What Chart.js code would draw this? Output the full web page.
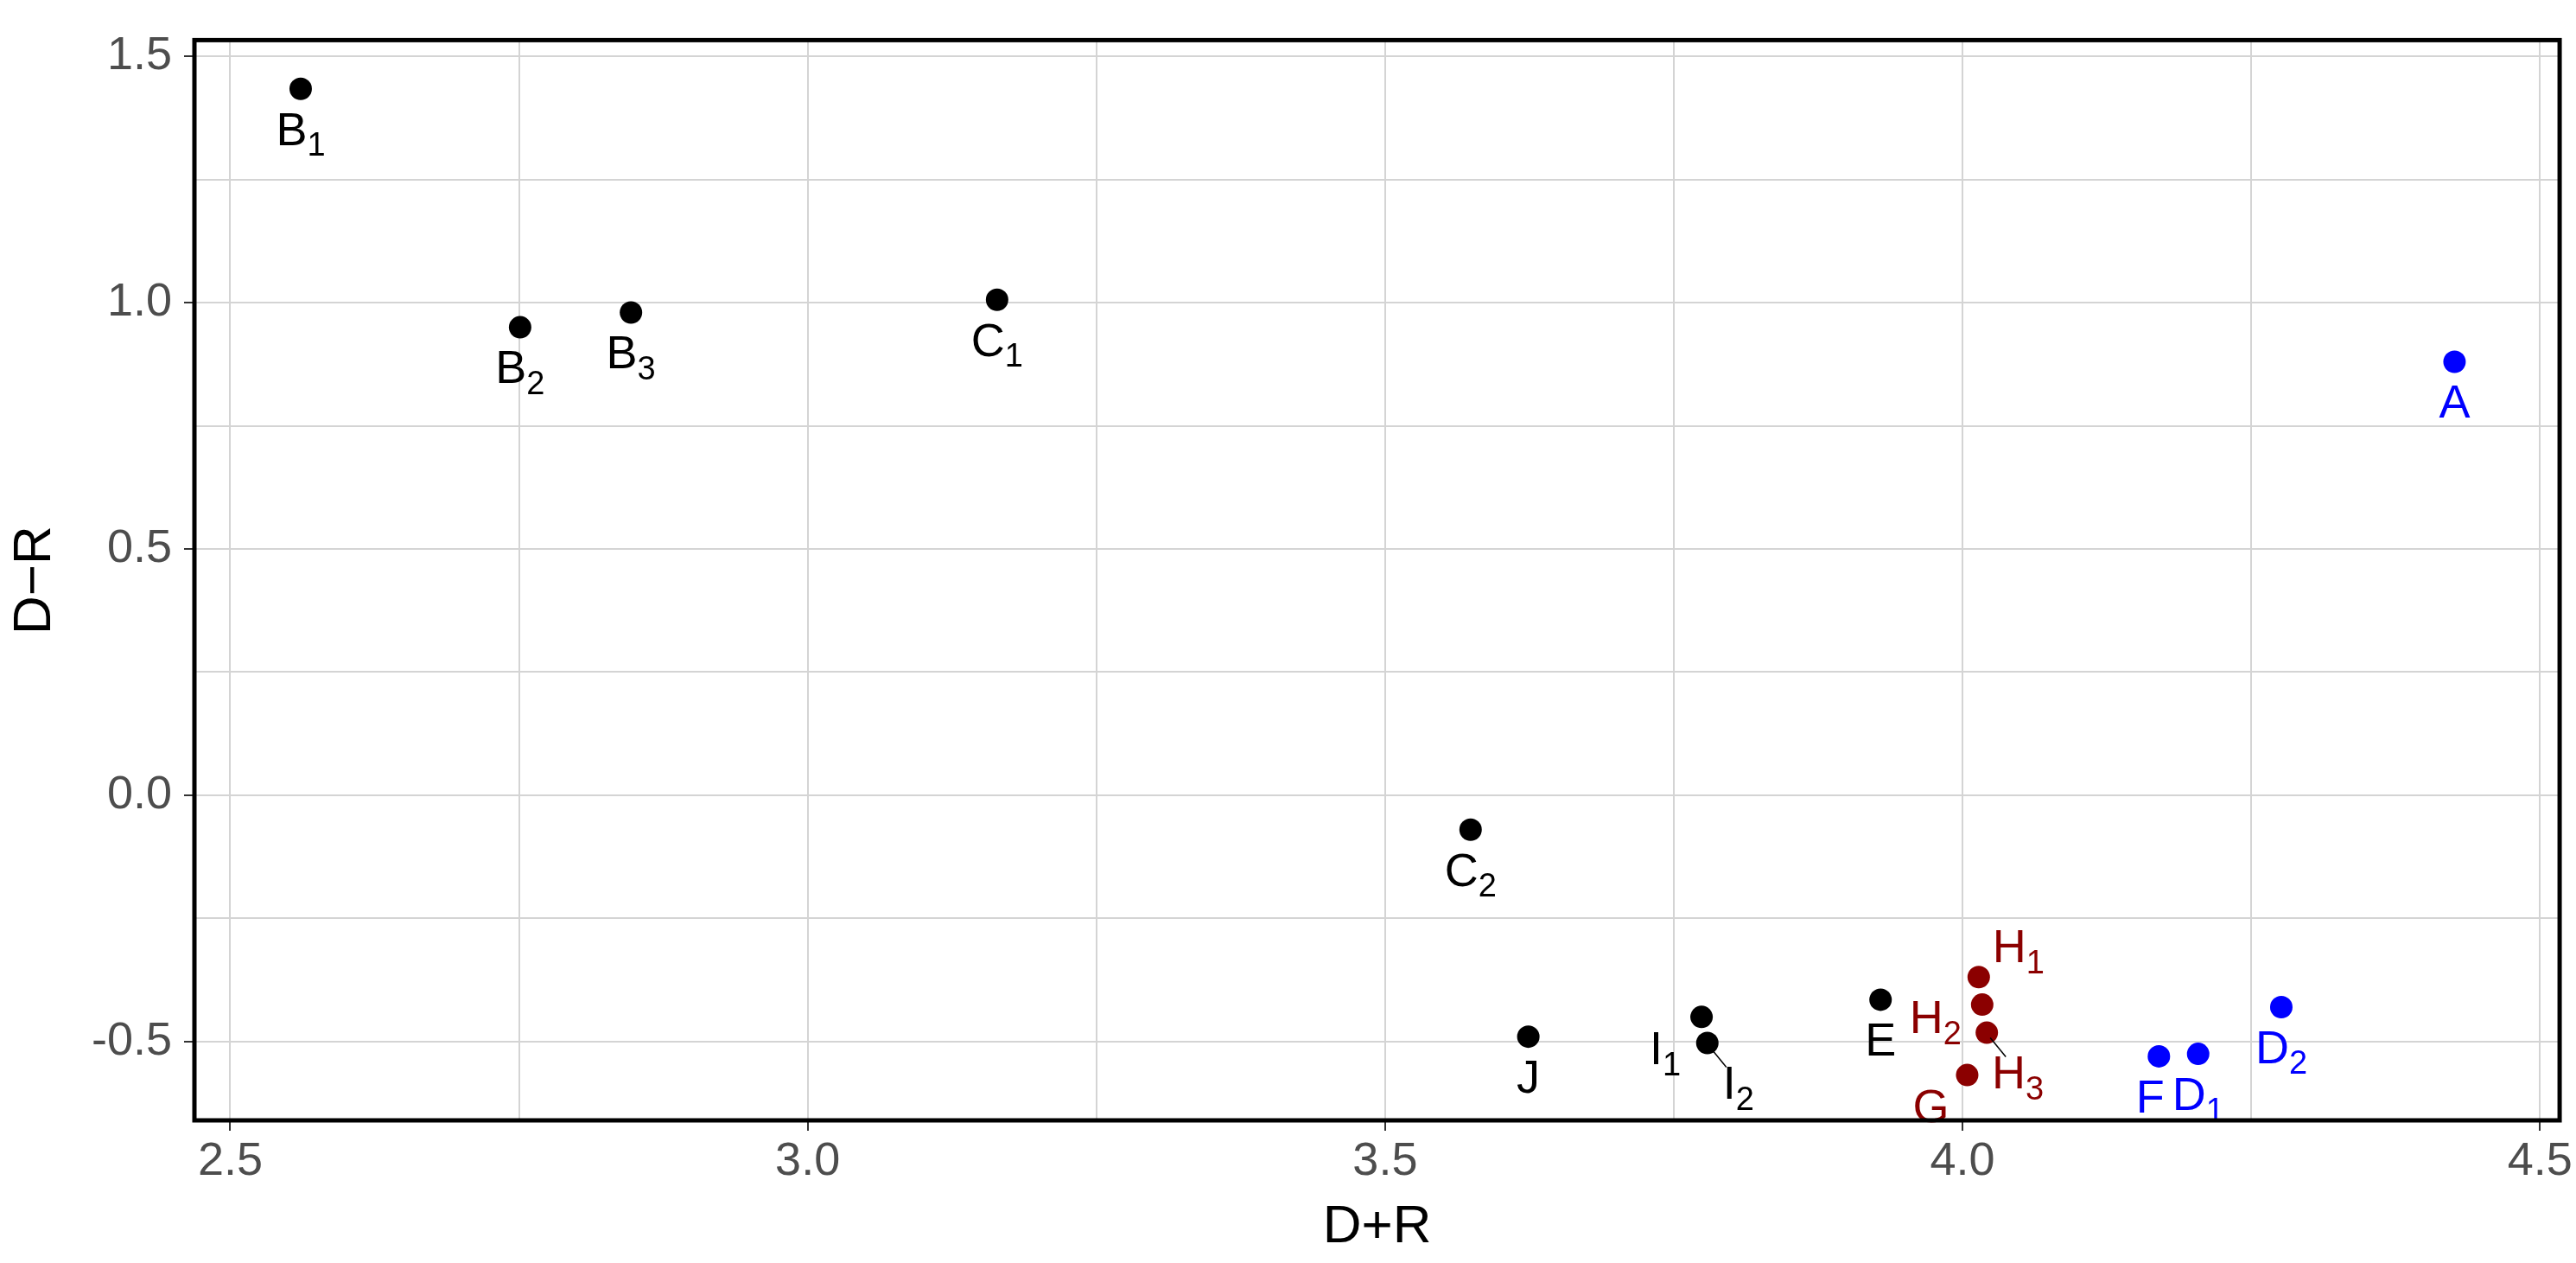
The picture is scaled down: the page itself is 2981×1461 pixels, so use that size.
<!DOCTYPE html>
<html>
<head>
<meta charset="utf-8">
<script src="https://cdn.jsdelivr.net/npm/chart.js@4"></script>
<style>
  html, body { margin: 0; padding: 0; background: #fff; }
  #wrap { width: 2981px; height: 1461px; }
</style>
</head>
<body>
<div id="wrap"><canvas id="c"></canvas></div>
<script>
'use strict';

// point names: letter + subscript
const names = ['B', 'B', 'B', 'C', 'A', 'C', 'J', 'I', 'I', 'E', 'H', 'H', 'H', 'G', 'F', 'D', 'D'];
const subs  = ['1', '2', '3', '1', '',  '2', '',  '1', '2', '',  '1', '2', '3', '',  '',  '1', '2'];
const dPlusR  = [2.561, 2.751, 2.847, 3.164, 4.426, 3.574, 3.624, 3.774, 3.779, 3.929, 4.014, 4.017, 4.021, 4.004, 4.170, 4.204, 4.276];
const dMinusR = [1.434, 0.950, 0.980, 1.006, 0.880, -0.070, -0.490, -0.450, -0.503, -0.415, -0.369, -0.425, -0.482, -0.568, -0.530, -0.525, -0.430];
const groups  = ['k', 'k', 'k', 'k', 'b', 'k', 'k', 'k', 'k', 'k', 'r', 'r', 'r', 'r', 'b', 'b', 'b'];
// where each label sits relative to its point
const labelSide = ['below', 'below', 'below', 'below', 'below', 'below', 'below', 'leftBelow', 'rightBelow', 'below',
                   'aboveRight', 'left', 'rightBelow', 'leftBelow', 'leftBelow2', 'below', 'below'];

const xTicks = [2.5, 2.75, 3.0, 3.25, 3.5, 3.75, 4.0, 4.25, 4.5];
const yTicks = [-0.5, -0.25, 0.0, 0.25, 0.5, 0.75, 1.0, 1.25, 1.5];

const groupColor = { k: '#000000', r: '#8B0000', b: '#0000FF' };
const FONT = 'Arial, "Liberation Sans", sans-serif';

const isMajor = v => Math.abs(v * 2 - Math.round(v * 2)) < 1e-6;

const labelPlugin = {
  id: 'pointLabels',
  afterDatasetsDraw(chart) {
    const ctx = chart.ctx;
    const meta = chart.getDatasetMeta(0);
    ctx.save();
    meta.data.forEach((pt, i) => {
      const base = names[i], sub = subs[i];
      ctx.font = '54px ' + FONT;
      const wb = ctx.measureText(base).width;
      ctx.font = '38px ' + FONT;
      const ws = sub ? ctx.measureText(sub).width : 0;
      const w = wb + ws;
      let cx = pt.x, cy = pt.y;
      switch (labelSide[i]) {
        case 'below': cy += 50; break;
        case 'left': cx -= 54; cy += 18; break;
        case 'leftBelow': cx -= 42; cy += 40; break;
        case 'leftBelow2': cx -= 10; cy += 50; break;
        case 'rightBelow': cx += 36; cy += 50; break;
        case 'aboveRight': cx += 46; cy -= 32; break;
      }
      const x0 = cx - w / 2;
      ctx.fillStyle = groupColor[groups[i]];
      ctx.textBaseline = 'middle';
      ctx.textAlign = 'left';
      ctx.font = '54px ' + FONT;
      ctx.fillText(base, x0, cy);
      if (sub) {
        ctx.font = '38px ' + FONT;
        ctx.fillText(sub, x0 + wb, cy + 17);
      }
    });
    // leader lines for crowded labels
    ctx.strokeStyle = '#000';
    ctx.lineWidth = 1.5;
    [8, 12].forEach(i => {
      const p = meta.data[i];
      ctx.beginPath();
      ctx.moveTo(p.x + 4, p.y + 6);
      ctx.lineTo(p.x + 22, p.y + 28);
      ctx.stroke();
    });
    ctx.restore();
  },
  afterDraw(chart) {
    const a = chart.chartArea, ctx = chart.ctx;
    ctx.save();
    ctx.strokeStyle = '#000';
    ctx.lineWidth = 5;
    ctx.strokeRect(a.left, a.top, a.right - a.left, a.bottom - a.top);
    ctx.restore();
  }
};

new Chart(document.getElementById('c'), {
  type: 'scatter',
  data: {
    datasets: [{
      data: dPlusR.map((x, i) => ({ x: x, y: dMinusR[i] })),
      pointRadius: 13,
      pointHoverRadius: 13,
      pointBorderWidth: 0,
      pointBackgroundColor: groups.map(g => groupColor[g]),
      pointBorderColor: groups.map(g => groupColor[g])
    }]
  },
  options: {
    responsive: true,
    maintainAspectRatio: false,
    animation: false,
    layout: { padding: { top: 34, right: 15, left: 0, bottom: 0 } },
    plugins: { legend: { display: false }, tooltip: { enabled: false } },
    scales: {
      x: {
        type: 'linear',
        min: 2.469, max: 4.517,
        afterBuildTicks: s => { s.ticks = xTicks.map(v => ({ value: v })); },
        afterFit: s => { s.height = 165; },
        grid: {
          color: '#d4d4d4', lineWidth: 2, drawTicks: true, tickLength: 12,
          tickColor: c => isMajor(c.tick.value) ? '#333' : 'rgba(0,0,0,0)'
        },
        border: { display: false },
        ticks: {
          color: '#4d4d4d', font: { size: 54, family: FONT }, padding: 4,
          callback: v => isMajor(v) ? v.toFixed(1) : ''
        },
        title: { display: true, text: 'D+R', color: '#000', font: { size: 62, family: FONT }, padding: { top: 0 } }
      },
      y: {
        type: 'linear',
        min: -0.66, max: 1.533,
        afterBuildTicks: s => { s.ticks = yTicks.map(v => ({ value: v })); },
        afterFit: s => { s.width = 225; },
        grid: {
          color: '#d4d4d4', lineWidth: 2, drawTicks: true, tickLength: 12,
          tickColor: c => isMajor(c.tick.value) ? '#333' : 'rgba(0,0,0,0)'
        },
        border: { display: false },
        ticks: {
          color: '#4d4d4d', font: { size: 54, family: FONT }, padding: 14,
          callback: v => isMajor(v) ? v.toFixed(1) : ''
        },
        title: { display: true, text: 'D\u2212R', color: '#000', font: { size: 62, family: FONT }, padding: { bottom: 10 } }
      }
    }
  },
  plugins: [labelPlugin]
});
</script>
</body>
</html>
